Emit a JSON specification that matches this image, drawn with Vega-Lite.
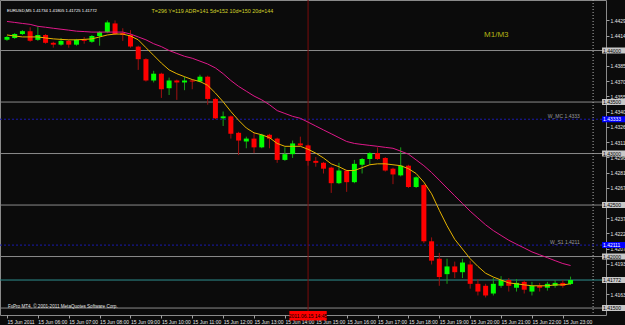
{
  "$schema": "https://vega.github.io/schema/vega-lite/v6.json",
  "width": 606,
  "height": 315,
  "autosize": {"type": "none"},
  "padding": {"left": 0, "top": 0, "right": 19, "bottom": 10},
  "background": "#0b0b0b",
  "config": {
    "view": {"stroke": "#8a8a8a", "strokeWidth": 1},
    "font": "Liberation Sans",
    "axis": {"grid": false, "title": null, "labelOverlap": false, "labelFontSize": 5, "labelColor": "#e6e6e6", "tickColor": "#a0a0a0", "tickSize": 3, "domain": false, "labelPadding": 1, "labelFlush": false, "labelBound": false}
  },
  "datasets": {
    "bars": [
      {"t":5,"o":1.44104,"h":1.44141,"l":1.44094,"c":1.44132,"m1":1.44151,"m2":1.44282},
      {"t":5.25,"o":1.44122,"h":1.44169,"l":1.44113,"c":1.44160,"m1":1.44141,"m2":1.44273},
      {"t":5.5,"o":1.44160,"h":1.44198,"l":1.44151,"c":1.44188,"m1":1.44132,"m2":1.44263},
      {"t":5.75,"o":1.44188,"h":1.44226,"l":1.44085,"c":1.44094,"m1":1.44132,"m2":1.44254},
      {"t":6,"o":1.44104,"h":1.44235,"l":1.44094,"c":1.44151,"m1":1.44132,"m2":1.44235},
      {"t":6.25,"o":1.44151,"h":1.44160,"l":1.44066,"c":1.44075,"m1":1.44122,"m2":1.44226},
      {"t":6.5,"o":1.44075,"h":1.44085,"l":1.44028,"c":1.44057,"m1":1.44113,"m2":1.44216},
      {"t":6.75,"o":1.44057,"h":1.44122,"l":1.44047,"c":1.44094,"m1":1.44108,"m2":1.44207},
      {"t":7,"o":1.44094,"h":1.44104,"l":1.44028,"c":1.44057,"m1":1.44104,"m2":1.44198},
      {"t":7.25,"o":1.44057,"h":1.44113,"l":1.44047,"c":1.44104,"m1":1.44104,"m2":1.44188},
      {"t":7.5,"o":1.44104,"h":1.44132,"l":1.44066,"c":1.44094,"m1":1.44108,"m2":1.44184},
      {"t":7.75,"o":1.44085,"h":1.44151,"l":1.44075,"c":1.44141,"m1":1.44113,"m2":1.44179},
      {"t":8,"o":1.44141,"h":1.44188,"l":1.44047,"c":1.44179,"m1":1.44132,"m2":1.44179},
      {"t":8.25,"o":1.44179,"h":1.44292,"l":1.44169,"c":1.44273,"m1":1.44151,"m2":1.44179},
      {"t":8.5,"o":1.44263,"h":1.44292,"l":1.44151,"c":1.44160,"m1":1.44160,"m2":1.44179},
      {"t":8.75,"o":1.44169,"h":1.44216,"l":1.44094,"c":1.44151,"m1":1.44160,"m2":1.44179},
      {"t":9,"o":1.44151,"h":1.44198,"l":1.44028,"c":1.44038,"m1":1.44141,"m2":1.44160},
      {"t":9.25,"o":1.44038,"h":1.44047,"l":1.43812,"c":1.43916,"m1":1.44104,"m2":1.44132},
      {"t":9.5,"o":1.43916,"h":1.43925,"l":1.43699,"c":1.43709,"m1":1.44028,"m2":1.44104},
      {"t":9.75,"o":1.43709,"h":1.43803,"l":1.43690,"c":1.43775,"m1":1.43953,"m2":1.44066},
      {"t":10,"o":1.43775,"h":1.43784,"l":1.43540,"c":1.43624,"m1":1.43878,"m2":1.44038},
      {"t":10.25,"o":1.43634,"h":1.43737,"l":1.43568,"c":1.43709,"m1":1.43812,"m2":1.44000},
      {"t":10.5,"o":1.43709,"h":1.43718,"l":1.43521,"c":1.43690,"m1":1.43775,"m2":1.43972},
      {"t":10.75,"o":1.43690,"h":1.43746,"l":1.43615,"c":1.43709,"m1":1.43746,"m2":1.43944},
      {"t":11,"o":1.43709,"h":1.43718,"l":1.43624,"c":1.43699,"m1":1.43718,"m2":1.43925},
      {"t":11.25,"o":1.43699,"h":1.43765,"l":1.43690,"c":1.43746,"m1":1.43699,"m2":1.43897},
      {"t":11.5,"o":1.43746,"h":1.43756,"l":1.43474,"c":1.43530,"m1":1.43662,"m2":1.43869},
      {"t":11.75,"o":1.43530,"h":1.43540,"l":1.43333,"c":1.43342,"m1":1.43587,"m2":1.43831},
      {"t":12,"o":1.43342,"h":1.43408,"l":1.43267,"c":1.43361,"m1":1.43502,"m2":1.43775},
      {"t":12.25,"o":1.43361,"h":1.43370,"l":1.43145,"c":1.43192,"m1":1.43408,"m2":1.43709},
      {"t":12.5,"o":1.43201,"h":1.43211,"l":1.42985,"c":1.43126,"m1":1.43323,"m2":1.43652},
      {"t":12.75,"o":1.43117,"h":1.43164,"l":1.43051,"c":1.43145,"m1":1.43248,"m2":1.43605},
      {"t":13,"o":1.43145,"h":1.43201,"l":1.43004,"c":1.43060,"m1":1.43201,"m2":1.43558},
      {"t":13.25,"o":1.43060,"h":1.43192,"l":1.43051,"c":1.43182,"m1":1.43182,"m2":1.43521},
      {"t":13.5,"o":1.43182,"h":1.43192,"l":1.43051,"c":1.43145,"m1":1.43154,"m2":1.43474},
      {"t":13.75,"o":1.43145,"h":1.43154,"l":1.42910,"c":1.42938,"m1":1.43098,"m2":1.43417},
      {"t":14,"o":1.42938,"h":1.43060,"l":1.42929,"c":1.42994,"m1":1.43070,"m2":1.43389},
      {"t":14.25,"o":1.42994,"h":1.43126,"l":1.42957,"c":1.43098,"m1":1.43070,"m2":1.43361},
      {"t":14.5,"o":1.43098,"h":1.43164,"l":1.43070,"c":1.43079,"m1":1.43070,"m2":1.43342},
      {"t":14.75,"o":1.43079,"h":1.43088,"l":1.42882,"c":1.42929,"m1":1.43041,"m2":1.43305},
      {"t":15,"o":1.42929,"h":1.42966,"l":1.42872,"c":1.42910,"m1":1.43004,"m2":1.43267},
      {"t":15.25,"o":1.42910,"h":1.42919,"l":1.42806,"c":1.42853,"m1":1.42957,"m2":1.43229},
      {"t":15.5,"o":1.42863,"h":1.42872,"l":1.42618,"c":1.42712,"m1":1.42900,"m2":1.43192},
      {"t":15.75,"o":1.42712,"h":1.42910,"l":1.42703,"c":1.42835,"m1":1.42872,"m2":1.43154},
      {"t":16,"o":1.42835,"h":1.42844,"l":1.42628,"c":1.42722,"m1":1.42835,"m2":1.43117},
      {"t":16.25,"o":1.42722,"h":1.42938,"l":1.42712,"c":1.42900,"m1":1.42835,"m2":1.43098},
      {"t":16.5,"o":1.42891,"h":1.42957,"l":1.42806,"c":1.42947,"m1":1.42863,"m2":1.43088},
      {"t":16.75,"o":1.42947,"h":1.43013,"l":1.42891,"c":1.43004,"m1":1.42891,"m2":1.43079},
      {"t":17,"o":1.43004,"h":1.43060,"l":1.42938,"c":1.42947,"m1":1.42900,"m2":1.43070},
      {"t":17.25,"o":1.42957,"h":1.42966,"l":1.42825,"c":1.42835,"m1":1.42900,"m2":1.43060},
      {"t":17.5,"o":1.42853,"h":1.42863,"l":1.42703,"c":1.42797,"m1":1.42891,"m2":1.43051},
      {"t":17.75,"o":1.42788,"h":1.43060,"l":1.42778,"c":1.42882,"m1":1.42882,"m2":1.43023},
      {"t":18,"o":1.42882,"h":1.42891,"l":1.42665,"c":1.42675,"m1":1.42853,"m2":1.42994},
      {"t":18.25,"o":1.42675,"h":1.42778,"l":1.42665,"c":1.42769,"m1":1.42806,"m2":1.42938},
      {"t":18.5,"o":1.42694,"h":1.42703,"l":1.42130,"c":1.42148,"m1":1.42722,"m2":1.42882},
      {"t":18.75,"o":1.42148,"h":1.42186,"l":1.41923,"c":1.41960,"m1":1.42609,"m2":1.42816},
      {"t":19,"o":1.41979,"h":1.42036,"l":1.41716,"c":1.41801,"m1":1.42449,"m2":1.42741},
      {"t":19.25,"o":1.41829,"h":1.41979,"l":1.41735,"c":1.41904,"m1":1.42299,"m2":1.42665},
      {"t":19.5,"o":1.41904,"h":1.41951,"l":1.41791,"c":1.41848,"m1":1.42167,"m2":1.42590},
      {"t":19.75,"o":1.41848,"h":1.41979,"l":1.41791,"c":1.41942,"m1":1.42073,"m2":1.42515},
      {"t":20,"o":1.41923,"h":1.41960,"l":1.41688,"c":1.41735,"m1":1.41979,"m2":1.42440},
      {"t":20.25,"o":1.41735,"h":1.41782,"l":1.41622,"c":1.41660,"m1":1.41904,"m2":1.42374},
      {"t":20.5,"o":1.41716,"h":1.41735,"l":1.41603,"c":1.41622,"m1":1.41838,"m2":1.42308},
      {"t":20.75,"o":1.41641,"h":1.41791,"l":1.41622,"c":1.41735,"m1":1.41801,"m2":1.42252},
      {"t":21,"o":1.41716,"h":1.41810,"l":1.41697,"c":1.41772,"m1":1.41772,"m2":1.42205},
      {"t":21.25,"o":1.41772,"h":1.41791,"l":1.41660,"c":1.41716,"m1":1.41744,"m2":1.42158},
      {"t":21.5,"o":1.41697,"h":1.41782,"l":1.41660,"c":1.41744,"m1":1.41735,"m2":1.42120},
      {"t":21.75,"o":1.41754,"h":1.41772,"l":1.41641,"c":1.41678,"m1":1.41725,"m2":1.42083},
      {"t":22,"o":1.41660,"h":1.41754,"l":1.41622,"c":1.41716,"m1":1.41716,"m2":1.42045},
      {"t":22.25,"o":1.41716,"h":1.41744,"l":1.41660,"c":1.41697,"m1":1.41716,"m2":1.42017},
      {"t":22.5,"o":1.41697,"h":1.41754,"l":1.41669,"c":1.41735,"m1":1.41716,"m2":1.41989},
      {"t":22.75,"o":1.41716,"h":1.41772,"l":1.41697,"c":1.41744,"m1":1.41725,"m2":1.41960},
      {"t":23,"o":1.41744,"h":1.41772,"l":1.41697,"c":1.41716,"m1":1.41725,"m2":1.41932},
      {"t":23.25,"o":1.41734,"h":1.41805,"l":1.41725,"c":1.41772,"m1":1.41735,"m2":1.41913}
    ],
    "levels": [
      {"p":1.44,"lab":"1.44000","kind":"round"},
      {"p":1.435,"lab":"1.43500","kind":"round"},
      {"p":1.43,"lab":"1.43000","kind":"round"},
      {"p":1.425,"lab":"1.42500","kind":"round"},
      {"p":1.42,"lab":"1.42000","kind":"round"},
      {"p":1.415,"lab":"1.41500","kind":"round"},
      {"p":1.41772,"lab":"1.41772","kind":"bid"},
      {"p":1.43333,"lab":"1.43333","kind":"pivot"},
      {"p":1.42111,"lab":"1.42111","kind":"pivot"}
    ],
    "pivots": [
      {"p":1.43333,"name":"W_MC 1.4333"},
      {"p":1.42111,"name":"W_S1 1.4211"}
    ]
  },
  "layer": [
    {
      "data": {"name": "levels"},
      "transform": [{"filter": "datum.kind == 'round'"}],
      "mark": {"type": "rule", "color": "#8c8c8c", "strokeWidth": 1},
      "encoding": {
        "y": {"field": "p", "type": "quantitative", "scale": {"domain": [1.41481, 1.44442], "nice": false, "zero": false},
          "axis": {"orient": "right", "values": [1.44295,1.44145,1.4385,1.437,1.43555,1.43405,1.4326,1.4311,1.42965,1.42815,1.4267,1.4237,1.42225,1.42075,1.4193,1.41635],
            "tickCount": 100, "format": ".5f", "labelOverlap": false, "labelBaseline": "middle"}}
      }
    },
    {
      "data": {"name": "levels"},
      "transform": [{"filter": "datum.kind == 'pivot'"}],
      "mark": {"type": "rule", "color": "#1a1ab0", "strokeWidth": 1, "strokeDash": [2, 2]},
      "encoding": {"y": {"field": "p", "type": "quantitative", "axis": {"orient": "right"}}}
    },
    {
      "data": {"name": "levels"},
      "transform": [{"filter": "datum.kind == 'bid'"}],
      "mark": {"type": "rule", "color": "#2f8f8f", "strokeWidth": 1},
      "encoding": {"y": {"field": "p", "type": "quantitative", "axis": {"orient": "right"}}}
    },
    {
      "data": {"values": [{}]},
      "mark": {"type": "rule", "color": "#7a0c0c", "strokeWidth": 1},
      "encoding": {"x": {"datum": 14.75, "type": "quantitative"}}
    },
    {
      "data": {"values": [{}]},
      "mark": {"type": "rule", "color": "#b0b0b0", "strokeWidth": 1, "strokeDash": [1, 2]},
      "encoding": {"x": {"datum": 23.98, "type": "quantitative"}}
    },
    {
      "data": {"name": "bars"},
      "mark": {"type": "rule", "strokeWidth": 1},
      "encoding": {
        "x": {"field": "t", "type": "quantitative", "scale": {"domain": [4.936, 24.236], "nice": false, "zero": false},
          "axis": {"orient": "bottom", "values": [5,6,7,8,9,10,11,12,13,14,15,16,17,18,19,20,21,22,23], "tickCount": 100,
            "labelExpr": "datum.value == 5 ? '15 Jun 2011' : '15 Jun ' + (datum.value < 10 ? '0' : '') + datum.value + ':00'",
            "labelAlign": "left", "labelOverlap": false}},
        "y": {"field": "l", "type": "quantitative", "axis": {"orient": "right"}},
        "y2": {"field": "h"},
        "color": {"condition": {"test": "datum.c >= datum.o", "value": "#18a018"}, "value": "#a01010"}
      }
    },
    {
      "data": {"name": "bars"},
      "mark": {"type": "bar", "size": 5},
      "encoding": {
        "x": {"field": "t", "type": "quantitative"},
        "y": {"field": "o", "type": "quantitative", "axis": {"orient": "right"}},
        "y2": {"field": "c"},
        "color": {"condition": {"test": "datum.c >= datum.o", "value": "#00ff00"}, "value": "#ff0000"}
      }
    },
    {
      "data": {"name": "bars"},
      "mark": {"type": "line", "color": "#e8b400", "strokeWidth": 1},
      "encoding": {"x": {"field": "t", "type": "quantitative"}, "y": {"field": "m1", "type": "quantitative", "axis": {"orient": "right"}}}
    },
    {
      "data": {"name": "bars"},
      "mark": {"type": "line", "color": "#e0188a", "strokeWidth": 1},
      "encoding": {"x": {"field": "t", "type": "quantitative"}, "y": {"field": "m2", "type": "quantitative", "axis": {"orient": "right"}}}
    },
    {
      "data": {"name": "pivots"},
      "mark": {"type": "text", "align": "right", "baseline": "bottom", "fontSize": 5, "color": "#9a9a9a"},
      "encoding": {"x": {"datum": 23.55, "type": "quantitative"}, "y": {"field": "p", "type": "quantitative", "axis": {"orient": "right"}}, "text": {"field": "name"}}
    },
    {
      "data": {"name": "levels"},
      "mark": {"type": "bar", "size": 6, "clip": false},
      "encoding": {
        "x": {"datum": 24.27, "type": "quantitative"},
        "x2": {"datum": 25.6},
        "y": {"field": "p", "type": "quantitative", "axis": {"orient": "right"}},
        "color": {"field": "kind", "type": "nominal", "scale": {"domain": ["round", "bid", "pivot"], "range": ["#c8c8c8", "#c8c8c8", "#0000ff"]}, "legend": null}
      }
    },
    {
      "data": {"name": "levels"},
      "mark": {"type": "text", "align": "left", "baseline": "middle", "fontSize": 5, "clip": false},
      "encoding": {
        "x": {"datum": 24.3, "type": "quantitative"},
        "y": {"field": "p", "type": "quantitative", "axis": {"orient": "right"}},
        "text": {"field": "lab"},
        "color": {"condition": {"test": "datum.kind == 'pivot'", "value": "#ffffff"}, "value": "#000000"}
      }
    },
    {
      "data": {"values": [{}]},
      "mark": {"type": "rect", "color": "#ff0000", "clip": false},
      "encoding": {
        "x": {"datum": 14.145, "type": "quantitative"}, "x2": {"datum": 15.355},
        "y": {"datum": 1.41472, "type": "quantitative", "axis": {"orient": "right"}}, "y2": {"datum": 1.41378}
      }
    },
    {
      "data": {"values": [{}]},
      "mark": {"type": "text", "align": "center", "baseline": "middle", "fontSize": 5, "color": "#000000", "clip": false},
      "encoding": {"x": {"datum": 14.75, "type": "quantitative"}, "y": {"datum": 1.41425, "type": "quantitative", "axis": {"orient": "right"}}, "text": {"value": "2011.06.15 14:45"}}
    },
    {
      "data": {"values": [{}]},
      "mark": {"type": "text", "align": "left", "baseline": "middle", "fontSize": 4.2, "color": "#ffffff"},
      "encoding": {"x": {"datum": 5.0, "type": "quantitative"}, "y": {"datum": 1.44386, "type": "quantitative", "axis": {"orient": "right"}}, "text": {"value": "EURUSD,M5  1.41734 1.41805 1.41725 1.41772"}}
    },
    {
      "data": {"values": [{}]},
      "mark": {"type": "text", "align": "left", "baseline": "middle", "fontSize": 5.4, "color": "#d2d22a"},
      "encoding": {"x": {"datum": 9.681, "type": "quantitative"}, "y": {"datum": 1.44386, "type": "quantitative", "axis": {"orient": "right"}}, "text": {"value": "T=296 Y=119 ADR=141 5d=152 10d=150 20d=144"}}
    },
    {
      "data": {"values": [{}]},
      "mark": {"type": "text", "align": "left", "baseline": "middle", "fontSize": 8, "color": "#b4b414"},
      "encoding": {"x": {"datum": 20.45, "type": "quantitative"}, "y": {"datum": 1.44151, "type": "quantitative", "axis": {"orient": "right"}}, "text": {"value": "M1/M3"}}
    },
    {
      "data": {"values": [{}]},
      "mark": {"type": "text", "align": "left", "baseline": "middle", "fontSize": 4.6, "color": "#e6e6e6"},
      "encoding": {"x": {"datum": 5.03, "type": "quantitative"}, "y": {"datum": 1.41509, "type": "quantitative", "axis": {"orient": "right"}}, "text": {"value": "FxPro MT4, © 2001-2011 MetaQuotes Software Corp."}}
    }
  ]
}
